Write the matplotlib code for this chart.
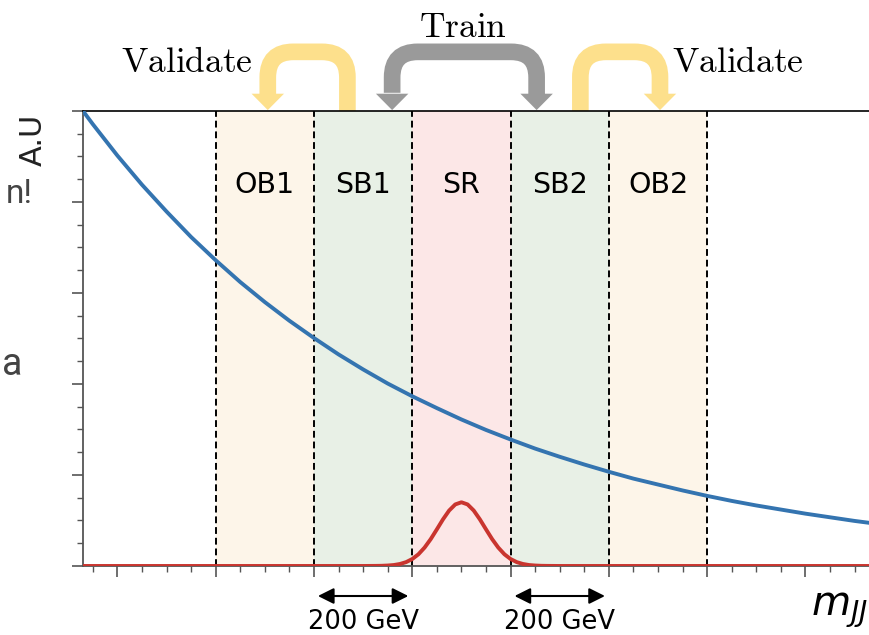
import numpy as np
import matplotlib
matplotlib.use('Agg')
import matplotlib.pyplot as plt
from matplotlib.path import Path
from matplotlib.patches import PathPatch, Polygon

# smooth QCD-like background, arbitrary units
mjj = [2730, 2750, 2800, 2850, 2900, 2950, 3000, 3050, 3100, 3150, 3200,
       3250, 3300, 3350, 3400, 3450, 3500, 3550, 3600, 3650, 3700, 3750,
       3800, 3850, 3900, 3950, 4000, 4050, 4100, 4150, 4200, 4250, 4300,
       4350, 4400]
background = [1.000, 0.971, 0.902, 0.838, 0.779, 0.723, 0.672, 0.624, 0.580,
              0.539, 0.501, 0.465, 0.432, 0.401, 0.373, 0.347, 0.322, 0.299,
              0.278, 0.258, 0.240, 0.223, 0.207, 0.192, 0.179, 0.166, 0.154,
              0.143, 0.133, 0.124, 0.115, 0.107, 0.099, 0.092, 0.086]

# resonant signal bump
sig_mjj = [2730, 3300, 3312.5, 3325, 3337.5, 3350, 3362.5, 3375, 3387.5,
           3400, 3412.5, 3425, 3437.5, 3450, 3462.5, 3475, 3487.5, 3500,
           3512.5, 3525, 3537.5, 3550, 3562.5, 3575, 3587.5, 3600, 3612.5,
           3625, 3637.5, 3650, 3662.5, 3675, 3687.5, 3700, 4400]
signal = [0, 0, 0.0001, 0.0002, 0.0004, 0.0010, 0.0021, 0.0044, 0.0085,
          0.0153, 0.0257, 0.0404, 0.0590, 0.0805, 0.1025, 0.1219, 0.1353,
          0.1400, 0.1353, 0.1219, 0.1025, 0.0805, 0.0590, 0.0404, 0.0257,
          0.0153, 0.0085, 0.0044, 0.0021, 0.0010, 0.0004, 0.0002, 0.0001,
          0, 0]

edges = [3000, 3200, 3400, 3600, 3800, 4000]
region_names = ['OB1', 'SB1', 'SR', 'SB2', 'OB2']
region_colors = ['#fdf5e9', '#e8f0e6', '#fce7e7', '#e8f0e6', '#fdf5e9']

width_label = '200 GeV'
width_spans = [(3200, 3400), (3600, 3800)]

BLUE = '#3474b0'
RED = '#c9352f'
YELLOW = '#fde08c'
GREY = '#9a9a9a'

plt.rcParams['mathtext.fontset'] = 'cm'

fig = plt.figure(figsize=(8.69, 6.35), dpi=100)
ax = fig.add_axes([0.0955, 0.1087, 0.9445, 0.7165])

for (lo, hi), name, col in zip(zip(edges[:-1], edges[1:]), region_names, region_colors):
    ax.axvspan(lo, hi, color=col, lw=0, zorder=0)
    ax.text((lo + hi) / 2, 0.837, name, ha='center', va='center',
            fontsize=20.5, transform=ax.get_xaxis_transform())
for e in edges:
    ax.axvline(e, color='black', ls=(0, (3.5, 2)), lw=1.4, zorder=1)

ax.plot(mjj, background, color=BLUE, lw=2.8, zorder=3)
ax.plot(sig_mjj, signal, color=RED, lw=2.8, zorder=3)

ax.set_xlim(2730, 4400)
ax.set_ylim(0, 1.0)
ax.set_xticks(np.arange(2800, 4401, 200))
ax.set_xticks(np.arange(2750, 4401, 50), minor=True)
ax.set_yticks(np.arange(0, 1.01, 0.2))
ax.set_yticks(np.arange(0, 1.01, 0.05), minor=True)
ax.set_xticklabels([])
ax.set_yticklabels([])
ax.tick_params(which='major', direction='out', length=8, width=1.2, color='#555555')
ax.tick_params(which='minor', direction='out', length=4, width=1.0, color='#555555')
for side in ['left', 'bottom']:
    ax.spines[side].set_color('#555555')
    ax.spines[side].set_linewidth(1.3)
ax.spines['right'].set_visible(False)
ax.spines['top'].set_color('black')
ax.spines['top'].set_linewidth(1.2)

# width markers under the axis
xtr = ax.get_xaxis_transform()
for lo, hi in width_spans:
    ax.annotate('', xy=(lo + 8, -0.066), xytext=(hi - 8, -0.066), xycoords=xtr,
                textcoords=xtr,
                arrowprops=dict(arrowstyle='<|-|>,head_length=0.6,head_width=0.3',
                                mutation_scale=16, color='black', lw=1.5,
                                shrinkA=0, shrinkB=0))
    ax.text((lo + hi) / 2, -0.1385, width_label, ha='center', va='baseline',
            fontsize=18.5, transform=xtr, clip_on=False)


def u_arrow(ax, x_from, x_to, color, both=False):
    tr = ax.get_xaxis_transform()
    top, base, tip = 1.13, 1.038, 1.002
    rx, ry = 52, 0.056
    hw = 33
    s = np.sign(x_to - x_from)
    y0 = base + 0.002 if both else 1.0
    verts = [(x_from, y0), (x_from, top - ry), (x_from, top),
             (x_from + s * rx, top), (x_to - s * rx, top), (x_to, top),
             (x_to, top - ry), (x_to, base - 0.002)]
    codes = [Path.MOVETO, Path.LINETO, Path.CURVE3, Path.CURVE3,
             Path.LINETO, Path.CURVE3, Path.CURVE3, Path.LINETO]
    ax.add_patch(PathPatch(Path(verts, codes), fill=False, edgecolor=color,
                           lw=12, capstyle='butt', transform=tr, clip_on=False))
    heads = [x_to, x_from] if both else [x_to]
    for x in heads:
        ax.add_patch(Polygon([(x - hw, base), (x + hw, base), (x, tip)],
                             closed=True, color=color, lw=0, transform=tr,
                             clip_on=False))


u_arrow(ax, 3268, 3106, YELLOW)
u_arrow(ax, 3359, 3653, GREY, both=True)
u_arrow(ax, 3742, 3904, YELLOW)

ax.text(3075, 1.086, r'$\mathrm{Validate}$', ha='right', va='baseline',
        fontsize=25.5, transform=xtr, math_fontfamily='cm')
ax.text(3929, 1.086, r'$\mathrm{Validate}$', ha='left', va='baseline',
        fontsize=25.5, transform=xtr, math_fontfamily='cm')
ax.text(3503, 1.163, r'$\mathrm{Train}$', ha='center', va='baseline',
        fontsize=25.5, transform=xtr, math_fontfamily='cm')

fig.text(811 / 869, 1 - 615 / 635, r'$m_{JJ}$', ha='left', va='baseline',
         fontsize=29, math_fontfamily='dejavusans')
fig.text(33 / 869, 1 - 140 / 635, 'A.U', rotation=90, ha='center',
         va='center', fontsize=22, color='#222222')

# fragments of neighbouring slide text
fig.text(33 / 869, 1 - 203 / 635, 'n!', ha='right', va='baseline',
         fontsize=24, color='#444444', family='Roboto')
fig.text(2 / 869, 1 - 375 / 635, 'a', ha='left', va='baseline',
         fontsize=27, color='#444444', family='Roboto')

fig.savefig('out.png', dpi=100)
